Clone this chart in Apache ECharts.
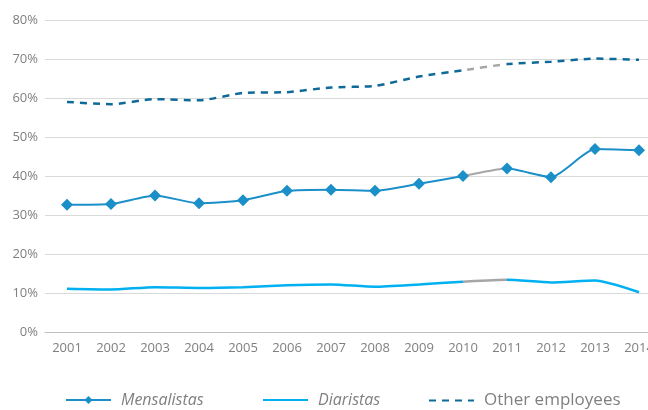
<!DOCTYPE html>
<html>
<head>
<meta charset="utf-8">
<script src="https://cdn.jsdelivr.net/npm/echarts@6/dist/echarts.min.js"></script>
<style>
  html, body { margin: 0; padding: 0; background: #fff; overflow: hidden; }
  /* plot area runs past the right edge of the window, like the original */
  #chart { width: 661px; height: 410px; }
</style>
</head>
<body>
<div id="chart"></div>
<script>
const years = ['2001', '2002', '2003', '2004', '2005', '2006', '2007', '2008', '2009', '2010', '2011', '2012', '2013', '2014']
const mensalistas = [32.6, 32.8, 35.0, 33.0, 33.8, 36.2, 36.5, 36.2, 38.0, 40.0, 41.9, 39.7, 46.9, 46.6]
const diaristas = [11.1, 10.9, 11.5, 11.3, 11.5, 12.0, 12.2, 11.6, 12.2, 12.9, 13.4, 12.7, 13.2, 10.2]
const otherEmployees = [59.0, 58.4, 59.7, 59.4, 61.3, 61.5, 62.7, 63.1, 65.5, 67.1, 68.7, 69.3, 70.1, 69.8]
const yTicks = [0, 10, 20, 30, 40, 50, 60, 70, 80]

const GRAY = '#a6a6a6'
const C_MENS = '#1a8fc8'
const C_DIAR = '#00b0f0'
const C_OTHER = '#0e6a98'

// gray segment between 2010 and 2011 (category index 9 -> 10)
const gapPieces = (color) => [
  { lte: 9, color },
  { gt: 9, lt: 10, color: GRAY },
  { gte: 10, color }
]

const legendItem = (name, left, italic, hideSymbol) => ({
  left,
  top: 387,
  itemWidth: 45,
  itemHeight: 10,
  selectedMode: false,
  textStyle: {
    color: '#808080',
    fontSize: italic ? 16 : 17,
    fontFamily: 'Open Sans',
    fontStyle: italic ? 'italic' : 'normal',
    padding: [0, 0, 0, 5]
  },
  data: [hideSymbol
    ? { name, itemStyle: { color: 'transparent', borderWidth: 0 } }
    : { name }]
})

const chart = echarts.init(document.getElementById('chart'))

const option = {
  animation: false,
  textStyle: { fontFamily: 'Open Sans' },
  grid: { left: 45, right: 0, top: 20, bottom: 78 },
  visualMap: [
    { show: false, type: 'piecewise', seriesIndex: 0, dimension: 0, pieces: gapPieces(C_MENS) },
    { show: false, type: 'piecewise', seriesIndex: 1, dimension: 0, pieces: gapPieces(C_DIAR) },
    { show: false, type: 'piecewise', seriesIndex: 2, dimension: 0, pieces: gapPieces(C_OTHER) }
  ],
  legend: [
    legendItem('Mensalistas', 60, true, false),
    legendItem('Diaristas', 257, true, true),
    legendItem('Other employees', 423, false, true)
  ],
  xAxis: {
    type: 'category',
    data: years,
    boundaryGap: true,
    axisLine: { lineStyle: { color: '#bfbfbf' } },
    axisTick: { show: false },
    axisLabel: { color: '#7f7f7f', fontSize: 13, margin: 10 }
  },
  yAxis: {
    type: 'value',
    min: yTicks[0],
    max: yTicks[yTicks.length - 1],
    interval: 10,
    axisLabel: { color: '#7f7f7f', fontSize: 13, margin: 7, formatter: (v) => v + '%' },
    splitLine: { lineStyle: { color: '#d9d9d9' } }
  },
  series: [
    {
      name: 'Mensalistas',
      type: 'line',
      data: mensalistas,
      smooth: 0.2,
      symbol: 'diamond',
      symbolSize: 12,
      itemStyle: { color: C_MENS },
      lineStyle: { width: 2 }
    },
    {
      name: 'Diaristas',
      type: 'line',
      data: diaristas,
      smooth: 0.2,
      symbol: 'none',
      itemStyle: { color: C_DIAR },
      lineStyle: { width: 2.5 }
    },
    {
      name: 'Other employees',
      type: 'line',
      data: otherEmployees,
      smooth: 0.2,
      symbol: 'none',
      itemStyle: { color: C_OTHER },
      lineStyle: { width: 2.5, type: [7, 6] }
    }
  ]
}

chart.setOption(option)
</script>
</body>
</html>
